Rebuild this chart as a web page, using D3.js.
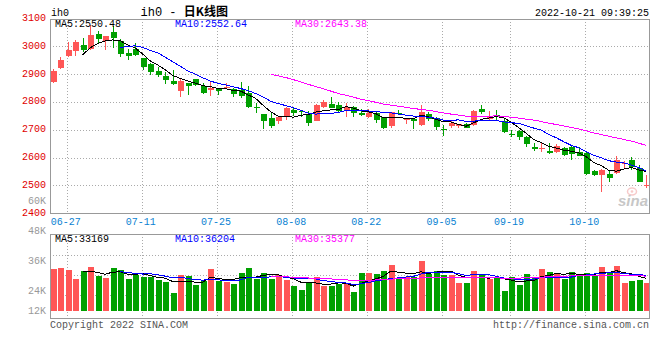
<!DOCTYPE html>
<html><head><meta charset="utf-8">
<script src="https://cdn.jsdelivr.net/npm/d3@7"></script>
<style>
body{margin:0;background:#fff}
svg{display:block}
text{font-family:"Liberation Mono","DejaVu Sans Mono",monospace;font-size:10px}
</style>
</head><body>
<svg id="c" width="660" height="360"></svg>
<script>
// ---------- data ----------
const dates = ["06-23","06-24","06-27","06-28","06-29","06-30","07-01","07-04","07-05","07-06",
"07-07","07-08","07-11","07-12","07-13","07-14","07-15","07-18","07-19","07-20",
"07-21","07-22","07-25","07-26","07-27","07-28","07-29","08-01","08-02","08-03",
"08-04","08-05","08-08","08-09","08-10","08-11","08-12","08-15","08-16","08-17",
"08-18","08-19","08-22","08-23","08-24","08-25","08-26","08-29","08-30","08-31",
"09-01","09-02","09-05","09-06","09-07","09-08","09-09","09-13","09-14","09-15",
"09-16","09-19","09-20","09-21","09-22","09-23","09-26","09-27","09-28","09-29",
"09-30","10-10","10-11","10-12","10-13","10-14","10-17","10-18","10-19","10-20"];
const open = [2873,2923,2964,2983,3004,2990,3046,3018,3050,3018,
2976,2992,2957,2938,2912,2893,2876,2839,2869,2881,
2857,2843,2849,2849,2845,2843,2831,2783,2757,2743,
2730,2745,2771,2769,2756,2733,2783,2793,2790,2771,
2781,2760,2745,2760,2745,2714,2762,2736,2738,2718,
2757,2743,2703,2712,2712,2720,2718,2776,2738,2754,
2733,2686,2694,2673,2640,2633,2623,2619,2635,2638,
2619,2617,2552,2536,2540,2545,2579,2593,2564,2500];
const close = [2911,2950,2986,3014,2986,3039,3025,3036,3029,2971,
2964,2968,2926,2907,2898,2879,2864,2876,2858,2861,
2831,2852,2840,2855,2827,2823,2783,2777,2730,2712,
2745,2779,2762,2764,2726,2788,2800,2779,2768,2783,
2760,2752,2760,2736,2706,2764,2757,2742,2733,2765,
2738,2710,2701,2726,2720,2708,2769,2765,2750,2745,
2692,2681,2674,2648,2631,2636,2615,2643,2609,2614,
2607,2543,2538,2557,2528,2590,2582,2567,2513,2501];
const high = [2917,2960,3014,3024,3029,3077,3054,3037,3072,3025,
2989,3011,2958,2939,2924,2908,2914,2881,2870,2884,
2869,2873,2850,2867,2852,2873,2857,2798,2758,2760,
2746,2783,2781,2771,2768,2793,2807,2819,2801,2795,
2786,2776,2774,2768,2746,2765,2771,2743,2740,2789,
2765,2745,2718,2733,2721,2726,2771,2789,2768,2771,
2742,2700,2700,2679,2652,2652,2652,2649,2638,2646,
2640,2619,2557,2560,2555,2605,2587,2602,2575,2538];
const low = [2869,2917,2962,2964,2980,2988,3012,2986,2995,2960,
2950,2966,2914,2898,2888,2864,2862,2819,2825,2859,
2829,2823,2826,2845,2819,2815,2777,2762,2704,2705,
2720,2736,2750,2745,2715,2732,2777,2778,2760,2745,
2745,2750,2744,2726,2702,2707,2752,2721,2702,2714,
2733,2698,2676,2705,2705,2706,2714,2757,2736,2733,
2690,2674,2664,2640,2623,2619,2614,2617,2607,2593,
2605,2536,2533,2476,2512,2543,2563,2557,2512,2490];
const volume = [42800,43900,41800,32600,40800,44900,35600,33600,43500,41800,
32600,36700,34600,34900,31500,29800,18200,36700,35600,26400,
30500,42800,30500,29800,27400,38700,43900,32600,38700,32600,
36400,31500,25400,21300,29500,34600,25700,25700,27400,28100,
19500,39000,39000,37700,41100,46900,33300,34300,34300,51000,
37700,41100,36700,36700,28800,28400,41000,36400,32600,34300,
20200,34300,26400,37700,34300,42500,39700,37700,32600,40100,
36700,38700,36700,45000,39200,45900,28800,30800,31500,28800];
const dateTicks = ["06-27","07-11","07-25","08-08","08-22","09-05","09-19","10-10"];
const priceTicks = [2400,2500,2600,2700,2800,2900,3000,3100];
const volTicks = [12000,24000,36000,48000,60000];
const volTickLabels = ["12K","24K","36K","48K","60K"];
const maPeriods = [5,10,30];
const maColors = ["#000000","#0000ff","#ff00ff"];
const priceMALabels = ["MA5:2550.48","MA10:2552.64","MA30:2643.38"];
const volMALabels = ["MA5:33169","MA10:36204","MA30:35377"];
const symbol = "ih0";
const titleLatin = "ih0 - ";
const titleCJK = "日K线图";
const stamp = "2022-10-21 09:39:25";
const copyright = "Copyright 2022 SINA.COM";
const site = "http://finance.sina.com.cn";

// ---------- layout ----------
const L = 50, R = 650;
const pTop = 18.5, pBot = 213.3;
const vTop = 234.3, vBot = 318.3, vBase = 310.7;
const UP = "#ff5656", DOWN = "#00a000";

const svg = d3.select("#c");
svg.append("rect").attr("width",660).attr("height",360).attr("fill","#fff");

const x = d3.scaleBand().domain(dates).range([48.9, 650.1]).paddingInner(0);
const cx = d => x(d) + x.bandwidth()/2;
const y = d3.scaleLinear().domain([2400, 3100]).range([pBot, pTop]);
const yv = d3.scaleLinear().domain([0, 78500]).range([vBase, vTop]);
const yvLab = d3.scaleLinear().domain([24000, 60000]).range([290.2, 200.3]);

const snap = v => Math.round(v) + 0.5;
const data = dates.map((d,i)=>({d, o:open[i], c:close[i], h:high[i], l:low[i], v:volume[i]}));

function movingAvg(arr, n){
  return arr.map((_,i)=> i < n-1 ? null : d3.mean(arr.slice(i-n+1, i+1)));
}

const grid = svg.append("g").attr("stroke","#aaa").attr("stroke-width",1)
  .attr("stroke-dasharray","1,2").attr("shape-rendering","crispEdges");
// horizontal price grid
grid.selectAll(".hg").data(priceTicks.filter(t=>t>2400 && t<3100)).join("line")
  .attr("x1",L).attr("x2",R).attr("y1",d=>snap(y(d))).attr("y2",d=>snap(y(d)));
// horizontal volume grid (quarters)
const vq = d3.scaleLinear().domain([0,4]).range([vTop, 315.5]);
grid.selectAll(".vg").data([1,2,3]).join("line")
  .attr("x1",L).attr("x2",R).attr("y1",d=>snap(vq(d))).attr("y2",d=>snap(vq(d)));
// vertical grid
dateTicks.forEach(t=>{
  const xx = snap(cx(t)) - 1;
  grid.append("line").attr("x1",xx).attr("x2",xx).attr("y1",pTop).attr("y2",pBot);
  grid.append("line").attr("x1",xx).attr("x2",xx).attr("y1",vTop).attr("y2",vBot+3);
});

// candles
const cg = svg.append("g").attr("shape-rendering","crispEdges");
cg.selectAll(".wick").data(data).join("line")
  .attr("x1",d=>Math.round(cx(d.d))+0.5).attr("x2",d=>Math.round(cx(d.d))+0.5)
  .attr("y1",d=>y(d.h)).attr("y2",d=>y(d.l))
  .attr("stroke",d=>d.c>=d.o?UP:DOWN).attr("stroke-width",1);
cg.selectAll(".body").data(data).join("rect")
  .attr("x",d=>Math.round(cx(d.d))-2.5).attr("width",6)
  .attr("y",d=>Math.min(y(d.o),y(d.c)))
  .attr("height",d=>Math.max(1, Math.abs(y(d.o)-y(d.c))))
  .attr("fill",d=>d.c>=d.o?UP:DOWN);

// volume bars
svg.append("g").attr("shape-rendering","crispEdges").selectAll("rect").data(data).join("rect")
  .attr("x",d=>Math.round(cx(d.d))-2.5).attr("width",6)
  .attr("y",d=>yv(d.v)).attr("height",d=>yv(0)-yv(d.v))
  .attr("fill",d=>d.c>=d.o?UP:DOWN);

// MA lines
maPeriods.forEach((n,k)=>{
  const mp = movingAvg(close, n);
  const mv = movingAvg(volume, n);
  const lp = d3.line().defined(d=>d[1]!=null).x(d=>cx(d[0])).y(d=>y(d[1]));
  const lv = d3.line().defined(d=>d[1]!=null).x(d=>cx(d[0])).y(d=>yv(d[1]));
  svg.append("path").attr("d", lp(dates.map((d,i)=>[d, mp[i]])))
    .attr("fill","none").attr("stroke",maColors[k]).attr("stroke-width",1).attr("shape-rendering","crispEdges");
  svg.append("path").attr("d", lv(dates.map((d,i)=>[d, mv[i]])))
    .attr("fill","none").attr("stroke",maColors[k]).attr("stroke-width",1).attr("shape-rendering","crispEdges");
});

// sina watermark
const wm = svg.append("g").attr("opacity",0.55);
wm.append("ellipse").attr("cx",632).attr("cy",191.5).attr("rx",4.5).attr("ry",3.5)
  .attr("fill","none").attr("stroke","#f2a0a0").attr("stroke-width",1.5);
wm.append("circle").attr("cx",632).attr("cy",191.5).attr("r",1.3).attr("fill","#f2a0a0");
wm.append("text").attr("x",618).attr("y",206).text("sina")
  .style("font-family","'Liberation Sans',Arial,sans-serif").style("font-size","15px")
  .style("font-weight","bold").style("font-style","italic").attr("fill","#9a9a9a");

// borders
const bd = svg.append("g").attr("stroke","#999").attr("stroke-width",1).attr("fill","none").attr("shape-rendering","crispEdges");
bd.append("rect").attr("x",snap(L)).attr("y",snap(pTop)).attr("width",snap(R)-snap(L)-1).attr("height",snap(pBot)-snap(pTop));
bd.append("rect").attr("x",snap(L)).attr("y",snap(vTop)).attr("width",snap(R)-snap(L)-1).attr("height",snap(vBot)-snap(vTop));

// price axis labels
svg.append("g").selectAll("text").data(priceTicks).join("text")
  .attr("x",46).attr("y",d=>y(d)+2.4).attr("text-anchor","end").attr("fill","#e00000").text(d=>d);
// date labels
svg.append("g").selectAll("text").data(dateTicks).join("text")
  .attr("x",d=>cx(d)-2).attr("y",225.3).attr("text-anchor","middle").attr("fill","#0a82d2").text(d=>d);
// volume axis labels
svg.append("g").selectAll("text").data(volTicks).join("text")
  .attr("x",46).attr("y",d=>Math.min(yvLab(d),310.3)+3.6).attr("text-anchor","end").attr("fill","#999")
  .text((d,i)=>volTickLabels[i]);

// legends
const legX = [55,175,295];
svg.append("g").selectAll("text").data(priceMALabels).join("text")
  .attr("x",(d,i)=>legX[i]).attr("y",27.3).attr("fill",(d,i)=>maColors[i]).text(d=>d);
svg.append("g").selectAll("text").data(volMALabels).join("text")
  .attr("x",(d,i)=>legX[i]).attr("y",241.8).attr("fill",(d,i)=>maColors[i]).text(d=>d);

// header
svg.append("text").attr("x",51).attr("y",16).attr("fill","#000").text(symbol);
const tt = svg.append("text").attr("x",140.5).attr("y",15.8).attr("fill","#000").style("font-size","12px");
tt.append("tspan").text(titleLatin);
tt.append("tspan").style("font-family","'Noto Sans CJK SC',sans-serif").style("font-weight","bold").text(titleCJK);
svg.append("text").attr("x",649).attr("y",16).attr("text-anchor","end").attr("fill","#000").text(stamp);

// footer
svg.append("text").attr("x",50).attr("y",327.5).attr("fill","#555").text(copyright);
svg.append("text").attr("x",649).attr("y",327.5).attr("text-anchor","end").attr("fill","#555").text(site);
</script>
</body></html>
